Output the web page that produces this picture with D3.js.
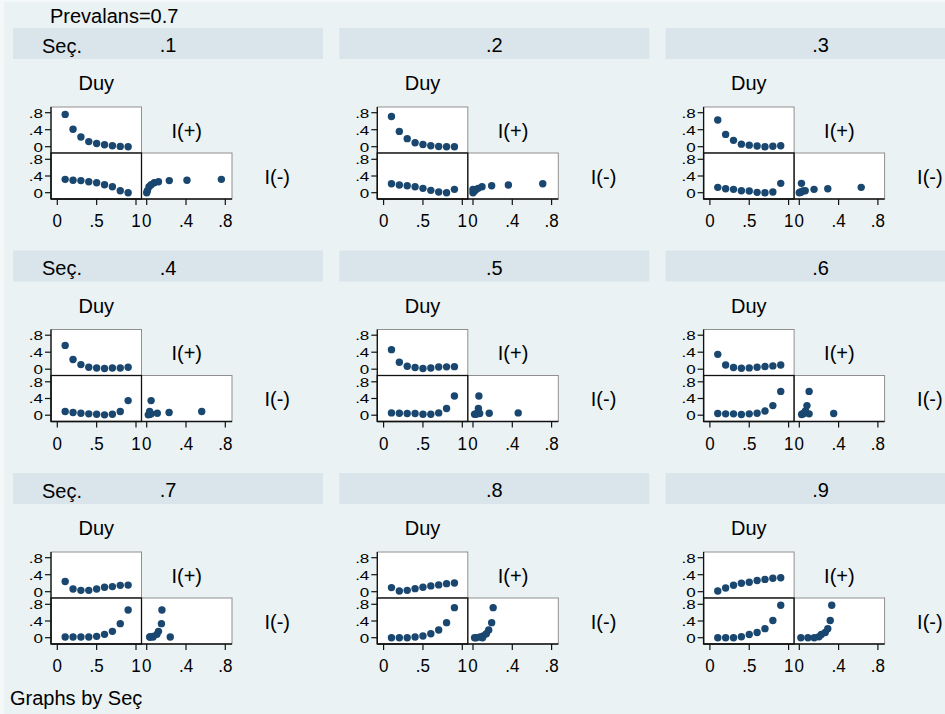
<!DOCTYPE html>
<html>
<head>
<meta charset="utf-8">
<script src="https://cdn.jsdelivr.net/npm/d3@7/dist/d3.min.js"></script>
<style>
  body { margin: 0; background: #f4f8f9; }
  svg { display: block; font-family: "Liberation Sans", Arial, sans-serif; }
</style>
</head>
<body>
<div id="chart"></div>
<script>
// panel levels (Seç.) and x values (Duy)
var secLevels = [".1", ".2", ".3", ".4", ".5", ".6", ".7", ".8", ".9"];
var duy = [0.1, 0.2, 0.3, 0.4, 0.5, 0.6, 0.7, 0.8, 0.9];

// I(+) per panel, one value per Duy
var iPlus = [
  [0.76, 0.41, 0.23, 0.12, 0.077, 0.045, 0.024, 0.007, 0.0],
  [0.71, 0.36, 0.19, 0.092, 0.052, 0.024, 0.004, 0.0, 0.0],
  [0.63, 0.29, 0.15, 0.06, 0.036, 0.015, 0.0, 0.012, 0.022],
  [0.56, 0.228, 0.108, 0.046, 0.03, 0.016, 0.03, 0.03, 0.045],
  [0.46, 0.165, 0.068, 0.04, 0.016, 0.03, 0.052, 0.055, 0.06],
  [0.35, 0.1, 0.039, 0.024, 0.031, 0.047, 0.063, 0.078, 0.1],
  [0.24, 0.064, 0.032, 0.032, 0.064, 0.104, 0.12, 0.15, 0.155],
  [0.096, 0.016, 0.032, 0.072, 0.104, 0.136, 0.16, 0.19, 0.205],
  [0.016, 0.088, 0.152, 0.2, 0.224, 0.264, 0.29, 0.315, 0.33]
];

// I(-) per panel, one value per Duy
var iMinus = [
  [0.32, 0.30, 0.29, 0.264, 0.24, 0.19, 0.144, 0.048, 0.0],
  [0.216, 0.184, 0.168, 0.144, 0.104, 0.056, 0.016, 0.0, 0.08],
  [0.128, 0.096, 0.08, 0.048, 0.04, 0.008, 0.0, 0.016, 0.224],
  [0.087, 0.063, 0.048, 0.032, 0.024, 0.008, 0.024, 0.087, 0.35],
  [0.055, 0.048, 0.04, 0.04, 0.024, 0.024, 0.055, 0.16, 0.46],
  [0.04, 0.032, 0.032, 0.016, 0.032, 0.048, 0.1, 0.23, 0.57],
  [0.016, 0.016, 0.016, 0.016, 0.032, 0.08, 0.152, 0.336, 0.664],
  [0.0, 0.0, 0.0, 0.016, 0.04, 0.096, 0.184, 0.36, 0.72],
  [0.0, 0.0, 0.0, 0.023, 0.078, 0.124, 0.217, 0.412, 0.777]
];

var duyTicks = [0, 0.5, 1];
var iTicks = [0, 0.4, 0.8];

var width = 945, height = 714;
var panelDX = 326.3, panelDY = 222.5;
var bg = "#eaf2f3", stripColor = "#d9e5eb", markColor = "#1a476f";

// matrix cells inside a panel
var cx0 = 51, cw = 90.5, ry2 = 107, rh = 46;

var svg = d3.select("#chart").append("svg")
  .attr("width", width)
  .attr("height", height);

svg.append("rect")
  .attr("x", 4).attr("y", 2)
  .attr("width", width).attr("height", height)
  .attr("fill", bg);

svg.append("text")
  .attr("x", 50).attr("y", 22.5)
  .style("font-size", "20px")
  .text("Prevalans=0.7");

svg.append("text")
  .attr("x", 10).attr("y", 705)
  .style("font-size", "20px")
  .text("Graphs by Seç");

// scales (panel-local coordinates)
var xDuy = d3.scaleLinear().domain([0, 1]).range([57.3, 136]);
var xIp = d3.scaleLinear().domain([0, 0.8]).range([146.7, 225.3]);
var yRow2 = d3.scaleLinear().domain([0, 0.8]).range([146.7, 112.7]);
var yRow3 = d3.scaleLinear().domain([0, 0.8]).range([192.7, 159.3]);

function fmt(d) {
  if (d === 0) return "0";
  if (d === 1) return "1";
  return String(d).replace(/^0/, "");
}

secLevels.forEach(function(lev, k) {
  var col = k % 3, row = Math.floor(k / 3);
  var g = svg.append("g")
    .attr("transform", "translate(" + (col * panelDX) + "," + (row * panelDY) + ")");

  // strip
  g.append("rect")
    .attr("x", 13).attr("y", 28)
    .attr("width", 310).attr("height", 31)
    .attr("fill", stripColor);
  g.append("text")
    .attr("x", 168).attr("y", 52)
    .attr("text-anchor", "middle")
    .style("font-size", "20px")
    .text(lev);
  if (col == 0) {
    g.append("text")
      .attr("x", 42).attr("y", 52.5)
      .style("font-size", "20px")
      .text("Seç.");
  }

  // diagonal labels
  g.append("text").attr("x", cx0 + cw / 2).attr("y", 90)
    .attr("text-anchor", "middle").style("font-size", "20px").text("Duy");
  g.append("text").attr("x", cx0 + cw * 1.5).attr("y", 137.5)
    .attr("text-anchor", "middle").style("font-size", "20px").text("I(+)");
  g.append("text").attr("x", cx0 + cw * 2.5).attr("y", 183.5)
    .attr("text-anchor", "middle").style("font-size", "20px").text("I(-)");

  // cells
  var cells = [[0, 0], [0, 1], [1, 1]];
  cells.forEach(function(c) {
    g.append("rect")
      .attr("x", cx0 + c[0] * cw).attr("y", ry2 + c[1] * rh)
      .attr("width", cw).attr("height", rh)
      .attr("fill", "white")
      .attr("stroke", "#8f8f8f")
      .attr("stroke-width", 1);
  });
  g.append("rect")
    .attr("x", cx0).attr("y", ry2 + rh)
    .attr("width", cw).attr("height", rh)
    .attr("fill", "none")
    .attr("stroke", "#111")
    .attr("stroke-width", 1.3);

  // axes: left (two rows) and bottom (two columns)
  var ax = g.append("g").attr("class", "axes");
  ax.append("line")
    .attr("x1", cx0).attr("x2", cx0)
    .attr("y1", ry2).attr("y2", ry2 + 2 * rh)
    .attr("stroke", "#111").attr("stroke-width", 1.3);
  ax.append("line")
    .attr("x1", cx0).attr("x2", cx0 + 2 * cw)
    .attr("y1", ry2 + 2 * rh).attr("y2", ry2 + 2 * rh)
    .attr("stroke", "#111").attr("stroke-width", 1.3);

  [yRow2, yRow3].forEach(function(ys) {
    iTicks.forEach(function(t) {
      ax.append("line")
        .attr("x1", cx0 - 6).attr("x2", cx0)
        .attr("y1", ys(t)).attr("y2", ys(t))
        .attr("stroke", "#111").attr("stroke-width", 1.2);
      ax.append("text")
        .attr("transform", "translate(43," + ys(t) + ") scale(1,0.8)")
        .attr("dy", "0.36em")
        .attr("text-anchor", "end")
        .style("font-size", "17px")
        .text(fmt(t));
    });
  });

  [[xDuy, duyTicks], [xIp, iTicks]].forEach(function(p) {
    p[1].forEach(function(t) {
      ax.append("line")
        .attr("x1", p[0](t)).attr("x2", p[0](t))
        .attr("y1", ry2 + 2 * rh).attr("y2", ry2 + 2 * rh + 6)
        .attr("stroke", "#111").attr("stroke-width", 1.2);
      ax.append("text")
        .attr("transform", "translate(" + p[0](t) + ",227) scale(1,1.12)")
        .attr("text-anchor", "middle")
        .style("font-size", "17px")
        .text(fmt(t));
    });
  });

  // points
  var pts = duy.map(function(d, i) {
    return { duy: d, ip: iPlus[k][i], im: iMinus[k][i] };
  });

  g.append("g").selectAll("circle")
    .data(pts).enter().append("circle")
    .attr("cx", function(d) { return xDuy(d.duy); })
    .attr("cy", function(d) { return yRow2(d.ip); })
    .attr("r", 3.7)
    .attr("fill", markColor);

  g.append("g").selectAll("circle")
    .data(pts).enter().append("circle")
    .attr("cx", function(d) { return xDuy(d.duy); })
    .attr("cy", function(d) { return yRow3(d.im); })
    .attr("r", 3.7)
    .attr("fill", markColor);

  g.append("g").selectAll("circle")
    .data(pts).enter().append("circle")
    .attr("cx", function(d) { return xIp(d.ip); })
    .attr("cy", function(d) { return yRow3(d.im); })
    .attr("r", 3.7)
    .attr("fill", markColor);
});
</script>
</body>
</html>
